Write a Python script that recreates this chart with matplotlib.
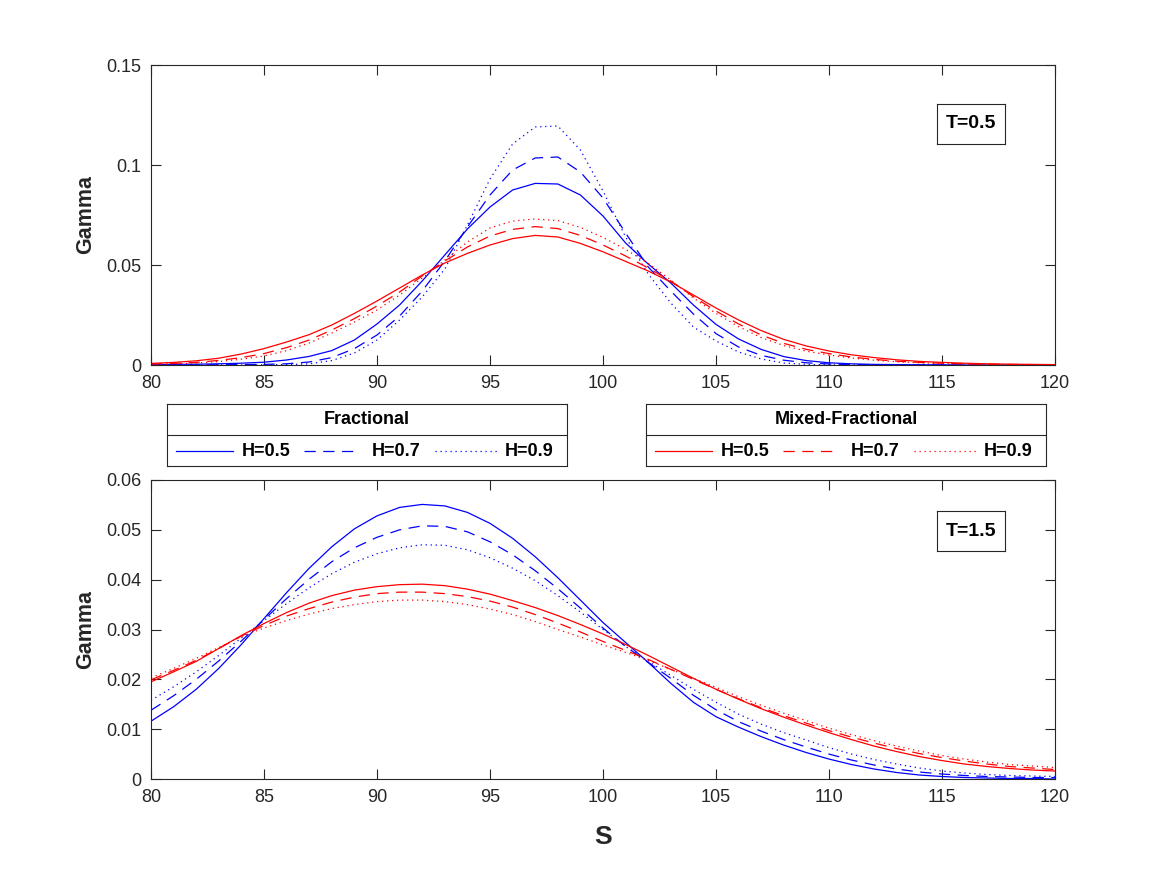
import matplotlib
matplotlib.use('Agg')
import matplotlib.pyplot as plt
import numpy as np

# ---------------- data ----------------
S = list(range(80, 121))

# T = 0.5
frac_h05_t05 = [0.0002, 0.0003, 0.0004, 0.0006, 0.0009, 0.0014, 0.0025, 0.0043, 0.0072, 0.0125,
                0.0205, 0.0300, 0.0420, 0.0550, 0.0680, 0.0790, 0.0875, 0.0908, 0.0905, 0.0850,
                0.0745, 0.0610, 0.0505, 0.0410, 0.0300, 0.0203, 0.0130, 0.0078, 0.0042, 0.0022,
                0.0011, 0.0006, 0.0003, 0.0002, 0.0001, 0.0001, 0.0, 0.0, 0.0, 0.0, 0.0]
frac_h07_t05 = [0.0, 0.0, 0.0001, 0.0001, 0.0002, 0.0003, 0.0006, 0.0015, 0.0037, 0.0082,
                0.0150, 0.0245, 0.0370, 0.0520, 0.0690, 0.0850, 0.0975, 0.1035, 0.1040, 0.0965,
                0.0835, 0.0660, 0.0490, 0.0370, 0.0255, 0.0157, 0.0090, 0.0048, 0.0024, 0.0011,
                0.0005, 0.0002, 0.0001, 0.0, 0.0, 0.0, 0.0, 0.0, 0.0, 0.0, 0.0]
frac_h09_t05 = [0.0, 0.0, 0.0, 0.0, 0.0, 0.0001, 0.0002, 0.0006, 0.0022, 0.0060,
                0.0125, 0.0225, 0.0340, 0.0480, 0.0700, 0.0930, 0.1105, 0.1190, 0.1195, 0.1075,
                0.0870, 0.0640, 0.0455, 0.0310, 0.0190, 0.0120, 0.0065, 0.0030, 0.0010, 0.0003,
                0.0001, 0.0, 0.0, 0.0, 0.0, 0.0, 0.0, 0.0, 0.0, 0.0, 0.0]
mixed_h05_t05 = [0.0008, 0.0013, 0.0021, 0.0034, 0.0055, 0.0082, 0.0115, 0.0152, 0.0200, 0.0258,
                 0.0320, 0.0385, 0.0450, 0.0510, 0.0558, 0.0600, 0.0632, 0.0648, 0.0640, 0.0608,
                 0.0566, 0.0518, 0.0470, 0.0415, 0.0350, 0.0285, 0.0225, 0.0172, 0.0128, 0.0095,
                 0.0070, 0.0051, 0.0037, 0.0026, 0.0018, 0.0013, 0.0009, 0.0006, 0.0004, 0.0003, 0.0002]
mixed_h07_t05 = [0.0005, 0.0008, 0.0013, 0.0023, 0.0037, 0.0057, 0.0087, 0.0125, 0.0175, 0.0232,
                 0.0295, 0.0365, 0.0445, 0.0520, 0.0590, 0.0645, 0.0678, 0.0692, 0.0682, 0.0648,
                 0.0600, 0.0545, 0.0485, 0.0420, 0.0342, 0.0270, 0.0205, 0.0150, 0.0108, 0.0078,
                 0.0057, 0.0040, 0.0028, 0.0019, 0.0013, 0.0009, 0.0006, 0.0004, 0.0003, 0.0002, 0.0001]
mixed_h09_t05 = [0.0003, 0.0006, 0.0010, 0.0017, 0.0029, 0.0045, 0.0072, 0.0110, 0.0160, 0.0215,
                 0.0275, 0.0350, 0.0435, 0.0525, 0.0615, 0.0685, 0.0720, 0.0730, 0.0722, 0.0688,
                 0.0638, 0.0578, 0.0508, 0.0425, 0.0335, 0.0258, 0.0192, 0.0137, 0.0097, 0.0069,
                 0.0050, 0.0035, 0.0024, 0.0016, 0.0011, 0.0007, 0.0005, 0.0003, 0.0002, 0.0001, 0.0001]

# T = 1.5
frac_h05_t15 = [0.0116, 0.0145, 0.0180, 0.0222, 0.0270, 0.0322, 0.0374, 0.0423, 0.0466, 0.0502,
                0.0528, 0.0545, 0.0551, 0.0548, 0.0535, 0.0513, 0.0483, 0.0446, 0.0404, 0.0359,
                0.0314, 0.0274, 0.0234, 0.0192, 0.0154, 0.0125, 0.0104, 0.0085, 0.0068, 0.0053,
                0.0040, 0.0029, 0.0020, 0.0013, 0.0008, 0.0005, 0.0003, 0.0002, 0.0001, 0.0001, 0.0000]
frac_h07_t15 = [0.0138, 0.0167, 0.0200, 0.0237, 0.0277, 0.0320, 0.0362, 0.0401, 0.0436, 0.0464,
                0.0485, 0.0500, 0.0508, 0.0507, 0.0496, 0.0476, 0.0450, 0.0418, 0.0382, 0.0343,
                0.0303, 0.0266, 0.0234, 0.0202, 0.0168, 0.0139, 0.0115, 0.0096, 0.0079, 0.0064,
                0.0050, 0.0038, 0.0028, 0.0020, 0.0014, 0.0010, 0.0007, 0.0005, 0.0004, 0.0003, 0.0003]
frac_h09_t15 = [0.0158, 0.0185, 0.0215, 0.0248, 0.0283, 0.0318, 0.0352, 0.0384, 0.0412, 0.0435,
                0.0452, 0.0464, 0.0470, 0.0469, 0.0460, 0.0444, 0.0423, 0.0398, 0.0368, 0.0335,
                0.0300, 0.0266, 0.0236, 0.0208, 0.0180, 0.0154, 0.0130, 0.0110, 0.0093, 0.0078,
                0.0063, 0.0050, 0.0039, 0.0030, 0.0022, 0.0016, 0.0012, 0.0009, 0.0007, 0.0006, 0.0005]
mixed_h05_t15 = [0.0195, 0.0215, 0.0236, 0.0262, 0.0288, 0.0312, 0.0334, 0.0353, 0.0368, 0.0379,
                 0.0386, 0.0390, 0.0391, 0.0388, 0.0381, 0.0371, 0.0358, 0.0344, 0.0328, 0.0310,
                 0.0291, 0.0270, 0.0248, 0.0225, 0.0202, 0.0180, 0.0160, 0.0141, 0.0124, 0.0108,
                 0.0093, 0.0079, 0.0066, 0.0055, 0.0045, 0.0037, 0.0030, 0.0025, 0.0021, 0.0018, 0.0016]
mixed_h07_t15 = [0.0199, 0.0218, 0.0238, 0.0262, 0.0287, 0.0308, 0.0327, 0.0342, 0.0355, 0.0365,
                 0.0372, 0.0375, 0.0375, 0.0372, 0.0366, 0.0357, 0.0345, 0.0330, 0.0313, 0.0295,
                 0.0276, 0.0258, 0.0240, 0.0220, 0.0200, 0.0180, 0.0161, 0.0143, 0.0127, 0.0112,
                 0.0097, 0.0084, 0.0072, 0.0061, 0.0051, 0.0043, 0.0036, 0.0030, 0.0025, 0.0022, 0.0019]
mixed_h09_t15 = [0.0203, 0.0222, 0.0242, 0.0264, 0.0286, 0.0303, 0.0318, 0.0331, 0.0342, 0.0350,
                 0.0356, 0.0359, 0.0359, 0.0356, 0.0350, 0.0341, 0.0330, 0.0316, 0.0300, 0.0285,
                 0.0269, 0.0254, 0.0238, 0.0220, 0.0202, 0.0184, 0.0165, 0.0148, 0.0132, 0.0117,
                 0.0102, 0.0089, 0.0077, 0.0066, 0.0056, 0.0047, 0.0040, 0.0034, 0.0029, 0.0026, 0.0023]

h_labels = ['H=0.5', 'H=0.7', 'H=0.9']
x_ticks = [80, 85, 90, 95, 100, 105, 110, 115, 120]
y_ticks_top = [0, 0.05, 0.1, 0.15]
y_ticks_bot = [0, 0.01, 0.02, 0.03, 0.04, 0.05, 0.06]

# ---------------- style ----------------
FONT = ['Liberation Sans', 'DejaVu Sans']
plt.rcParams['font.family'] = FONT
AX_COL = '#262626'
BLUE = '#0000ff'
RED = '#ff0000'
LW = 0.9
styles = [dict(linestyle='-'),
          dict(linestyle=(0, (9, 6))),
          dict(linestyle=(0, (1, 3)))]

W, H = 1167, 875
fig = plt.figure(figsize=(W / 100, H / 100), dpi=100)


def px_axes(x0, y0, x1, y1):
    return fig.add_axes([x0 / W, 1 - y1 / H, (x1 - x0) / W, (y1 - y0) / H])


def style_axes(ax, yticks, ylim):
    ax.set_xlim(80, 120)
    ax.set_ylim(*ylim)
    ax.set_xticks(x_ticks)
    ax.set_yticks(yticks)
    ax.set_yticklabels([('%g' % v) for v in yticks])
    ax.tick_params(direction='in', length=7, width=0.8, colors=AX_COL,
                   labelsize=13, top=True, right=True, pad=7)
    for sp in ax.spines.values():
        sp.set_color(AX_COL)
        sp.set_linewidth(0.8)
    ax.set_ylabel('Gamma', fontsize=15.5, fontweight='bold', color=AX_COL, labelpad=7)


ax1 = px_axes(151, 65, 1055, 365)
ax2 = px_axes(151, 480, 1055, 779)

top_frac = [frac_h05_t05, frac_h07_t05, frac_h09_t05]
top_mix = [mixed_h05_t05, mixed_h07_t05, mixed_h09_t05]
bot_frac = [frac_h05_t15, frac_h07_t15, frac_h09_t15]
bot_mix = [mixed_h05_t15, mixed_h07_t15, mixed_h09_t15]

for ax, fr, mx in [(ax1, top_frac, top_mix), (ax2, bot_frac, bot_mix)]:
    for ys, st in zip(fr, styles):
        ax.plot(S, ys, color=BLUE, lw=LW, **st)
    for ys, st in zip(mx, styles):
        ax.plot(S, ys, color=RED, lw=LW, **st)

style_axes(ax1, y_ticks_top, (0, 0.15))
style_axes(ax2, y_ticks_bot, (0, 0.06))
ax2.set_xlabel('S', fontsize=19, fontweight='bold', color=AX_COL, labelpad=14)

# T boxes
for ax, txt, (bx0, by0, bx1, by1) in [(ax1, 'T=0.5', (937, 104, 1005, 144)),
                                       (ax2, 'T=1.5', (937, 511, 1005, 551))]:
    bax = px_axes(bx0, by0, bx1, by1)
    bax.set_xticks([]); bax.set_yticks([])
    for sp in bax.spines.values():
        sp.set_color(AX_COL); sp.set_linewidth(0.8)
    bax.text(0.5, 0.5, txt, ha='center', va='center', fontsize=14,
             fontweight='bold', color='black', transform=bax.transAxes)

# legends (custom boxes with a title row)
def legend_box(x0, title, color):
    lax = px_axes(x0, 404, x0 + 400, 466)
    lax.set_xlim(0, 400); lax.set_ylim(62, 0)
    lax.set_xticks([]); lax.set_yticks([])
    for sp in lax.spines.values():
        sp.set_color(AX_COL); sp.set_linewidth(0.8)
    lax.axhline(31, color=AX_COL, lw=0.8)
    lax.text(200, 16, title, ha='center', va='center', fontsize=13,
             fontweight='bold', color='black')
    segs = [(9, 66), (137, 188), (268, 330)]
    txt_x = [75, 205, 338]
    for (a, b), tx, st, lab in zip(segs, txt_x, styles, h_labels):
        lax.plot([a, b], [47, 47], color=color, lw=LW, **st)
        lax.text(tx, 47, lab, ha='left', va='center', fontsize=13,
                 fontweight='bold', color='black')

legend_box(167, 'Fractional', BLUE)
legend_box(646, 'Mixed-Fractional', RED)

fig.savefig('out.png', dpi=100, facecolor='white')
